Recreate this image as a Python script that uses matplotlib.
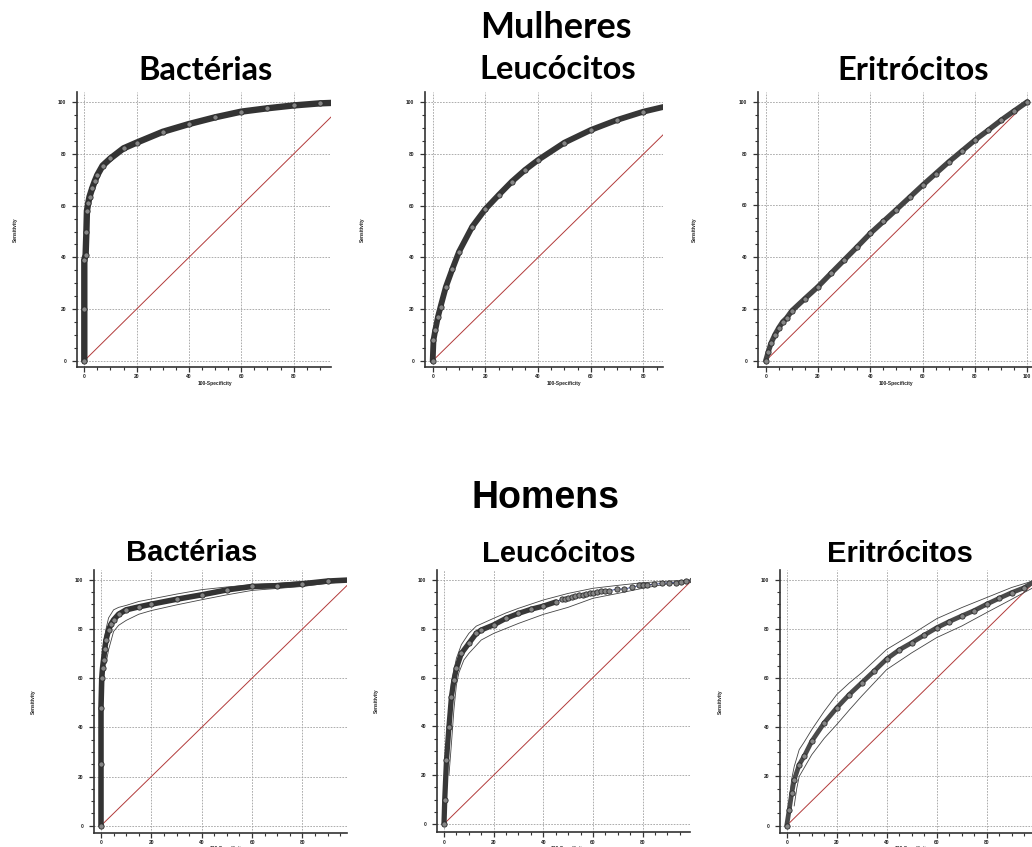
import matplotlib
matplotlib.use("Agg")
import matplotlib.pyplot as plt
from matplotlib.ticker import MultipleLocator

W, H = 1032, 847

# ---------------- data ----------------
# Mulheres - Bactérias
f_bac_fpr = [0, 0, 0, 0.5, 0.8, 1.0, 1.5, 2, 3, 4, 5, 7, 10, 15, 20, 30, 40, 50, 60, 70, 80, 90, 100]
f_bac_tpr = [0, 20, 39, 41, 50, 58, 61, 63.5, 66.7, 69.5, 71.9, 75.5, 78.3, 82.2, 84.4, 88.6, 91.6, 94.2, 96.4, 97.7, 98.8, 99.6, 100]

# Mulheres - Leucócitos
f_leu_fpr = [0, 0.3, 1, 2, 3, 5, 7.5, 10, 15, 20, 25, 30, 35, 40, 50, 60, 70, 80, 90, 100]
f_leu_tpr = [0, 8, 12, 17, 21, 28.6, 35.6, 42.2, 51.9, 58.7, 64.1, 69.3, 73.8, 77.7, 84.4, 89.3, 93.2, 96.4, 98.8, 100]

# Mulheres - Eritrócitos
f_eri_fpr = [0, 1, 2, 3.5, 5, 6.5, 8, 10, 15, 20, 25, 30, 35, 40, 45, 50, 55, 60, 65, 70, 75, 80, 85, 90, 95, 100]
f_eri_tpr = [0, 3.5, 6.7, 10, 12.7, 15, 16.5, 19.3, 24, 28.6, 33.8, 38.9, 44, 49.2, 53.8, 58.4, 63.1, 67.8, 72.3, 76.8, 81, 85.2, 89, 92.9, 96.5, 100]

# Homens - Bactérias
m_bac_fpr = [0, 0, 0, 0.3, 0.6, 1, 1.5, 2, 3, 4, 5, 7, 10, 15, 20, 30, 40, 50, 60, 70, 80, 90, 100]
m_bac_tpr = [0, 25, 48, 60, 64, 67.4, 72, 75.6, 79.6, 82, 83.7, 86, 87.8, 89, 90.1, 92.1, 93.9, 95.9, 97.3, 97.6, 98.4, 99.5, 100]
m_bac_up_fpr = [1, 2, 3, 5, 7, 10, 15, 20, 30, 40, 50, 60, 70, 80, 90, 100]
m_bac_up_tpr = [74, 80, 84.5, 87.8, 88.8, 89.6, 91.2, 92.2, 94.2, 96, 97.1, 98, 98.6, 99.3, 99.8, 100]
m_bac_lo_fpr = [2, 3, 5, 7, 10, 15, 20, 30, 40, 50, 60, 70, 80, 90, 100]
m_bac_lo_tpr = [66, 71.5, 79, 81.5, 83.5, 86, 87.5, 89.8, 91.9, 93.9, 95.7, 96.5, 97.3, 98.6, 99.5]

# Homens - Leucócitos
m_leu_fpr = [0, 0.3, 1, 2, 3, 4, 5, 7, 10, 13, 15, 20, 25, 30, 35, 40, 45,
             47.4, 48.7, 50.1, 51.4, 52.8, 54.4, 55.8, 57.2, 58.8, 60.1, 61.5, 63.1,
             64.8, 66.6, 69.8, 72.6, 75.6, 78.7, 80.3, 81.9, 84.7, 87.7, 90.7, 93.4,
             95.3, 97.5, 100]
m_leu_tpr = [0, 10, 26.2, 39.9, 52.2, 59, 63.8, 69.9, 74, 78.1, 79.5, 81.6, 84.3, 86.3, 88, 89.3, 91,
             92.1, 92.3, 92.8, 93.2, 93.4, 93.7, 94.0, 94.4, 94.7, 94.8, 95.1, 95.4,
             95.5, 95.6, 96.3, 96.3, 97.0, 97.8, 98.0, 98.1, 98.2, 98.6, 98.9, 98.9,
             99.2, 99.5, 100]
m_leu_up_fpr = [0.5, 1, 2, 3, 5, 7, 10, 13, 15, 20, 25, 30, 40, 50, 60, 70, 80, 90, 100]
m_leu_up_tpr = [20, 32, 47, 58, 67.9, 73.5, 78.1, 81.1, 82, 84.3, 86.5, 88.4, 91.8, 94.5, 96.6, 97.8, 98.9, 99.5, 100]
m_leu_lo_fpr = [2, 3, 4, 5, 6, 8, 10, 15, 20, 30, 40, 50, 60, 70, 80, 90, 100]
m_leu_lo_tpr = [20, 33, 47, 57, 62, 67.2, 69.9, 75.4, 78.1, 82.2, 85.9, 88.8, 92.5, 94.5, 96.6, 98.4, 99.3]

# Homens - Eritrócitos
m_eri_fpr = [0, 1, 2, 3, 5, 7, 10, 15, 20, 25, 30, 35, 40, 45, 50, 55, 60, 65, 70, 75, 80, 85, 90, 95, 100]
m_eri_tpr = [0, 6.4, 13.2, 18.6, 24.8, 28.2, 34.3, 41.8, 47.9, 53.3, 58.1, 62.9, 67.8, 71.5, 74.4, 77.5, 80.5, 83, 85.3, 87.5, 90.1, 92.5, 94.8, 96.8, 100]
m_eri_up_fpr = [1, 2, 3, 5, 7, 10, 15, 20, 25, 30, 40, 50, 60, 70, 80, 90, 100]
m_eri_up_tpr = [10, 19, 24, 30.9, 34, 39, 46.5, 53.3, 58, 62.2, 71.7, 77.8, 84.2, 88.7, 92.8, 96.9, 100]
m_eri_lo_fpr = [3, 4, 5, 7, 10, 15, 20, 25, 30, 40, 50, 60, 70, 80, 90, 100]
m_eri_lo_tpr = [8, 15, 20, 23.5, 28.8, 35.5, 41.1, 47, 52.7, 63.5, 70.3, 76.5, 81.2, 86.7, 92.1, 97.6]

diag = [0, 100]
major_ticks = [0, 20, 40, 60, 80, 100]
group_titles = ["Mulheres", "Homens"]
panel_titles = ["Bactérias", "Leucócitos", "Eritrócitos"]
xlabel_text = "100-Specificity"
ylabel_text = "Sensitivity"

# ---------------- layout (pixels) ----------------
# (left, top, right, bottom, xmin, xmax, ymin, ymax)
layout = [
    (77.3, 92, 331, 366.7, -2.68, 94.3, -2.32, 104.0),
    (425, 92, 662.7, 367, -2.92, 87.3, -2.4, 104.0),
    (758.3, 91.7, 1032, 366.7, -2.83, 101.8, -2.3, 103.9),
    (94, 570, 347, 832.7, -2.78, 97.7, -2.86, 104.0),
    (437.3, 570, 690, 832, -2.7, 99.1, -3.3, 104.1),
    (780, 570, 1032, 832.7, -2.68, 98.1, -2.9, 104.0),
]

curves = [
    (f_bac_fpr, f_bac_tpr, None),
    (f_leu_fpr, f_leu_tpr, None),
    (f_eri_fpr, f_eri_tpr, None),
    (m_bac_fpr, m_bac_tpr, (m_bac_up_fpr, m_bac_up_tpr, m_bac_lo_fpr, m_bac_lo_tpr)),
    (m_leu_fpr, m_leu_tpr, (m_leu_up_fpr, m_leu_up_tpr, m_leu_lo_fpr, m_leu_lo_tpr)),
    (m_eri_fpr, m_eri_tpr, (m_eri_up_fpr, m_eri_up_tpr, m_eri_lo_fpr, m_eri_lo_tpr)),
]

band_lw = [4.6, 4.2, 3.8, 4.0, 3.8, 3.4]
band_col = ["#333333", "#363636", "#444444", "#333333", "#383838", "#4a4a4a"]
band_until = [101, 101, 101, 101, 46, 101]
ylabel_x = [15, 362.7, 694, 33, 376.7, 720]

fig = plt.figure(figsize=(W / 100, H / 100), dpi=100)
fig.patch.set_facecolor("white")

for i, (lay, cur) in enumerate(zip(layout, curves)):
    l, t, r, b, x0, x1, y0, y1 = lay
    ax = fig.add_axes([l / W, 1 - b / H, (r - l) / W, (b - t) / H])
    ax.patch.set_alpha(0)
    for s in ["top", "right"]:
        ax.spines[s].set_visible(False)
    for s in ["left", "bottom"]:
        ax.spines[s].set_linewidth(1.2)
        ax.spines[s].set_color("#333333")
    ax.set_xticks(major_ticks)
    ax.set_yticks(major_ticks)
    ax.xaxis.set_minor_locator(MultipleLocator(5))
    ax.yaxis.set_minor_locator(MultipleLocator(5))
    ax.grid(True, which="major", linestyle=(0, (2, 1.5)), color="#a0a0a0", linewidth=0.6)
    ax.set_axisbelow(True)
    ax.tick_params(which="major", direction="out", length=3.4, width=0.9, color="#333333")
    ax.tick_params(which="minor", direction="out", length=2.4, width=0.8, color="#333333")
    ax.tick_params(axis="y", pad=4.5)
    ax.tick_params(axis="x", pad=2.0)
    for lab in ax.get_xticklabels() + ax.get_yticklabels():
        lab.set_fontfamily("Liberation Sans")
        lab.set_fontweight("bold")
        lab.set_fontsize(3.5)
        lab.set_color("#222222")

    # diagonal reference
    ax.plot(diag, diag, color="#b23a3a", linewidth=0.7, zorder=2)

    fpr, tpr, ci = cur
    if ci is not None:
        ax.plot(ci[0], ci[1], color="#444444", linewidth=0.6, zorder=3)
        ax.plot(ci[2], ci[3], color="#444444", linewidth=0.6, zorder=3)
        ax.plot(fpr, tpr, color="#2a3a9a", linewidth=0.6, zorder=3.5)
    bx = [x for x in fpr if x < band_until[i]]
    by = [y for x, y in zip(fpr, tpr) if x < band_until[i]]
    ax.plot(bx, by, color=band_col[i], linewidth=band_lw[i], solid_capstyle="round",
            solid_joinstyle="round", zorder=4)
    ax.plot(fpr, tpr, linestyle="none",
            marker="o", markersize=3.8, markerfacecolor="#858585",
            markeredgecolor="#2a2a2a", markeredgewidth=0.6, zorder=5)

    # limits last (set_xticks would otherwise widen them)
    ax.set_xlim(x0, x1)
    ax.set_ylim(y0, y1)

    # axis labels
    yc = (t + b) / 2
    fig.text(ylabel_x[i] / W, 1 - yc / H, ylabel_text, rotation=90, ha="center", va="center",
             family="Liberation Sans", weight="bold", fontsize=3.5, color="#222222")
    px_per_unit = (r - l) / (x1 - x0)
    x_zero_px = l + (0 - x0) * px_per_unit
    xl_px = x_zero_px + 50 * px_per_unit
    xl_py = 383 if i < 3 else 848.5
    fig.text(xl_px / W, 1 - xl_py / H, xlabel_text, ha="center", va="center",
             family="Liberation Sans", weight="bold", fontsize=3.5, color="#222222")

# titles
top_font = dict(family=["Lato", "DejaVu Sans"], weight="bold")
bot_font = dict(family=["Liberation Sans", "DejaVu Sans"], weight="bold")

fig.text(556 / W, 1 - 38.3 / H, group_titles[0], ha="center", va="baseline", fontsize=26, **top_font)
for cx, by, name in zip([205.8, 557.5, 913], [80, 79, 80], panel_titles):
    fig.text(cx / W, 1 - by / H, name, ha="center", va="baseline", fontsize=23.5, **top_font)

fig.text(546 / W, 1 - 508.3 / H, group_titles[1], ha="center", va="baseline", fontsize=27, **bot_font)
for cx, by, name in zip([191.7, 558.8, 900.3], [560.7, 561.7, 561.5], panel_titles):
    fig.text(cx / W, 1 - by / H, name, ha="center", va="baseline", fontsize=21, **bot_font)

fig.savefig("out.png", dpi=100, facecolor="white")
